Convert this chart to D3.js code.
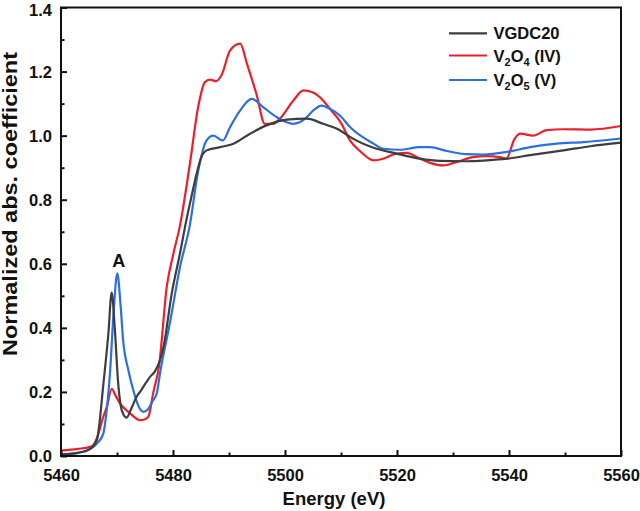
<!DOCTYPE html>
<html><head><meta charset="utf-8">
<script src="https://cdn.jsdelivr.net/npm/d3@7"></script>
<style>
body{margin:0;background:#fff;}
text{font-family:"Liberation Sans",Arial,sans-serif;font-weight:bold;fill:#111;}
</style></head>
<body><svg id="c" width="640" height="511"></svg>
<script>
const xTicks=[5460,5480,5500,5520,5540,5560];
const xMinor=[5470,5490,5510,5530,5550];
const yTicks=[0,0.2,0.4,0.6,0.8,1.0,1.2,1.4];
const yMinor=[0.1,0.3,0.5,0.7,0.9,1.1,1.3];
const seriesNames=["VGDC20","V2O4 (IV)","V2O5 (V)"];

const blackE=[5460,5463,5465,5466.4,5467.6,5468.45,5469.05,5469.6,5470.2,5470.9,5471.7,5472.6,5473.5,5474.3,5475.9,5476.8,5477.7,5478.3,5479.8,5481.25,5482.2,5483.3,5484.2,5485,5486,5488.4,5490.8,5493.75,5496.7,5500.3,5503.9,5506.8,5509.8,5511.6,5515.8,5519.9,5524.1,5527.7,5531.8,5536,5539.6,5543.75,5549.7,5554.5,5560];
const blackV=[0.005,0.01,0.02,0.05,0.23,0.38,0.51,0.40,0.23,0.14,0.12,0.15,0.185,0.205,0.247,0.265,0.30,0.34,0.51,0.633,0.72,0.81,0.88,0.93,0.954,0.964,0.975,1.006,1.032,1.05,1.053,1.037,1.017,0.996,0.962,0.944,0.928,0.921,0.92,0.923,0.928,0.939,0.954,0.967,0.978];

const redE=[5460,5463,5465.5,5466.5,5467.5,5468.2,5469.05,5469.7,5470.5,5472.3,5474.1,5475,5475.6,5476.5,5477.5,5478.9,5480.05,5481.25,5483,5484.5,5485.7,5486.6,5487.7,5488.7,5490.2,5492,5493.2,5494.9,5496.4,5497.9,5499.1,5501.5,5503.3,5504.8,5506.8,5508,5510,5511.6,5513.5,5515.8,5517.55,5519.9,5521.7,5524.1,5525.9,5528.3,5530.7,5533.6,5536,5538.4,5539.5,5541,5542,5544.3,5546.7,5549.7,5554.5,5560];
const redV=[0.017,0.022,0.03,0.06,0.12,0.154,0.21,0.19,0.165,0.134,0.112,0.115,0.123,0.2,0.28,0.53,0.63,0.72,0.91,1.09,1.167,1.175,1.17,1.19,1.266,1.287,1.225,1.13,1.037,1.037,1.053,1.11,1.141,1.136,1.11,1.084,1.04,0.985,0.95,0.923,0.928,0.944,0.946,0.928,0.915,0.907,0.918,0.933,0.936,0.933,0.928,0.99,1.006,1.0,1.017,1.02,1.019,1.03];

const blueE=[5460,5463,5465,5466.5,5467.55,5468.2,5468.75,5469.4,5470.05,5470.6,5471.1,5472,5472.9,5474,5474.7,5475.5,5476.3,5477.1,5477.7,5479.5,5481.25,5483,5484.5,5486,5487.2,5488.9,5490.2,5492,5494.05,5496.1,5498.5,5501.5,5503.6,5505.05,5506.55,5508,5509.8,5511.6,5515.8,5517.55,5520.5,5524.1,5525.9,5528.9,5532.45,5535.4,5539.6,5543.75,5548.5,5553.3,5560];
const blueV=[0.005,0.01,0.02,0.04,0.07,0.15,0.26,0.45,0.57,0.48,0.36,0.27,0.206,0.15,0.138,0.145,0.17,0.195,0.26,0.42,0.59,0.72,0.89,0.985,1.0,0.985,1.027,1.079,1.115,1.089,1.058,1.037,1.053,1.079,1.094,1.084,1.063,1.027,0.975,0.959,0.956,0.964,0.964,0.952,0.942,0.941,0.949,0.964,0.975,0.98,0.991];

const colors=["#3d3d3d","#e8212b","#2b6fe3"];
const series=[
  {name:seriesNames[0],E:blackE,V:blackV,color:colors[0]},
  {name:seriesNames[1],E:redE,V:redV,color:colors[1]},
  {name:seriesNames[2],E:blueE,V:blueV,color:colors[2]}
];

const L=61,R=621,T=7.5,B=456;
const svg=d3.select("#c");
const x=d3.scaleLinear().domain([5460,5560]).range([L,R]);
const y=d3.scaleLinear().domain([0,1.4]).range([B,T]);

const line=d3.line().x(d=>x(d[0])).y(d=>y(d[1])).curve(d3.curveMonotoneX);
const g=svg.append("g");
[series[1],series[2],series[0]].forEach(s=>{
  const pts=s.E.map((e,i)=>[e,s.V[i]]);
  g.append("path").attr("d",line(pts)).attr("fill","none")
   .attr("stroke",s.color).attr("stroke-width",2.2).attr("stroke-linejoin","round");
});

// frame
svg.append("rect").attr("x",L).attr("y",T).attr("width",R-L).attr("height",B-T)
  .attr("fill","none").attr("stroke","#111").attr("stroke-width",2);

// axes
const xa=svg.append("g").attr("transform",`translate(0,${B})`)
  .call(d3.axisBottom(x).tickValues(xTicks).tickSize(-6).tickPadding(13).tickFormat(d3.format("d")));
const xm=svg.append("g").attr("transform",`translate(0,${B})`)
  .call(d3.axisBottom(x).tickValues(xMinor).tickSize(-3.5).tickFormat(""));
const ya=svg.append("g").attr("transform",`translate(${L},0)`)
  .call(d3.axisLeft(y).tickValues(yTicks).tickSize(-6).tickPadding(9).tickFormat(d3.format(".1f")));
const ym=svg.append("g").attr("transform",`translate(${L},0)`)
  .call(d3.axisLeft(y).tickValues(yMinor).tickSize(-3.5).tickFormat(""));
[xa,xm,ya,ym].forEach(a=>{
  a.select(".domain").remove();
  a.selectAll("line").attr("stroke","#111").attr("stroke-width",2);
  a.selectAll("text").style("font-size","16.5px").attr("fill","#111");
});
xa.selectAll("text").attr("dy","0.71em");
ya.selectAll("text").attr("dy","0.35em");
ya.selectAll("text").filter(d=>d===1.4).attr("dy","0.5em");

// axis titles
svg.append("text").attr("x",334).attr("y",505).attr("text-anchor","middle")
  .style("font-size","18.5px").text("Energy (eV)");
svg.append("text").attr("transform",`translate(16.5,204) rotate(-90)`)
  .attr("text-anchor","middle").style("font-size","19.5px")
  .attr("textLength",304).attr("lengthAdjust","spacingAndGlyphs")
  .text("Normalized abs. coefficient");

// A label
svg.append("text").attr("x",x(5470.3)).attr("y",y(0.59)).attr("text-anchor","middle")
  .style("font-size","18px").text("A");

// legend
const lg=svg.append("g");
const rows=[33.3,55.5,80];
series.forEach((s,i)=>{
  lg.append("line").attr("x1",449).attr("x2",487).attr("y1",rows[i]).attr("y2",rows[i])
    .attr("stroke",s.color).attr("stroke-width",2.2);
  const t=lg.append("text").attr("x",493.5).attr("y",rows[i]+6).style("font-size","16.5px");
  const parts=s.name.match(/^V(\d)O(\d)(.*)$/);
  if(!parts){t.text(s.name);}
  else{
    t.append("tspan").text("V");
    t.append("tspan").attr("dy",4).style("font-size","11px").text(parts[1]);
    t.append("tspan").attr("dy",-4).text("O");
    t.append("tspan").attr("dy",4).style("font-size","11px").text(parts[2]);
    t.append("tspan").attr("dy",-4).text(parts[3]);
  }
});
</script></body></html>
